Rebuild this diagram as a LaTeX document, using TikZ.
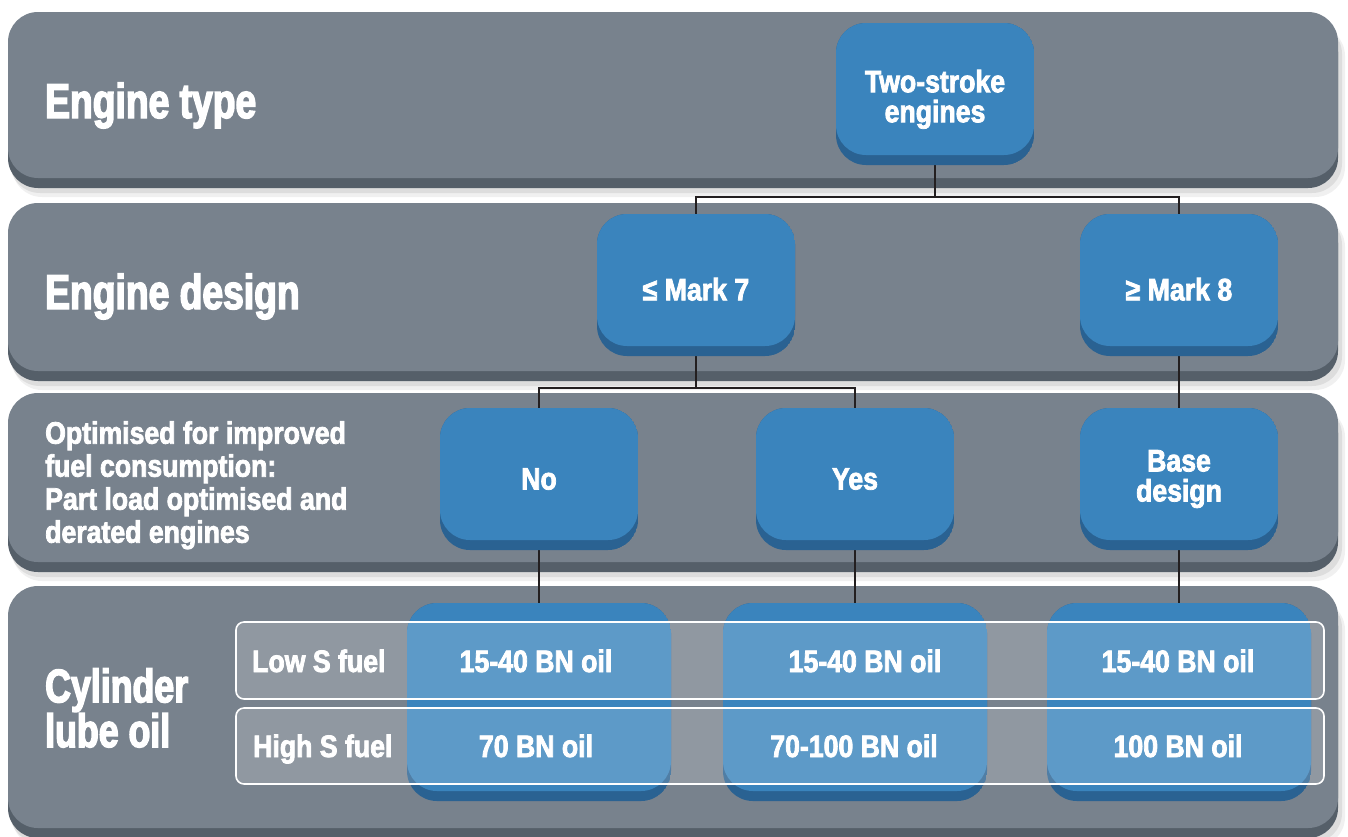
\documentclass[tikz,border=0pt]{standalone}
\usepackage{fontspec}
\setmainfont{Liberation Sans}
\newfontfamily\condS{Liberation Sans Bold}[FakeStretch=0.86,FakeBold=2.5]
\newfontfamily\condB{Liberation Sans Bold}[FakeStretch=0.76,FakeBold=3]
\usetikzlibrary{calc}
\definecolor{bandC}{RGB}{120,130,141}
\definecolor{bandD}{RGB}{85,95,105}
\definecolor{blueC}{RGB}{58,132,189}
\definecolor{blueD}{RGB}{42,98,146}
\definecolor{lineC}{RGB}{35,31,32}
\pgfdeclarelayer{bandlayer}
\pgfdeclarelayer{linelayer}
\pgfsetlayers{bandlayer,linelayer,main}
\newcommand\drawBand[2]{%
  \fill[black,opacity=0.06,rounded corners=30] (12,#1+14) rectangle (1345,#2+19);
  \fill[black,opacity=0.08,rounded corners=30] (10,#1+12) rectangle (1342,#2+15);
  \fill[bandD,rounded corners=30] (8,#1+10) rectangle (1338,#2+10);
  \fill[bandC,rounded corners=30] (8,#1) rectangle (1338,#2);}
\tikzset{
  bbox/.style={rectangle, rounded corners=30, minimum width=198, minimum height=142,
    inner sep=0, text=white, align=center,
    font={\condS\fontsize{31}{30}\selectfont},
    path picture={
      \fill[blueD] (path picture bounding box.south west) rectangle (path picture bounding box.north east);
      \fill[blueC, rounded corners=30] (path picture bounding box.north west) rectangle ($(path picture bounding box.south east)+(0,-10)$);
    }},
  obox/.style={bbox, minimum width=264, minimum height=198},
  rowbox/.style={rectangle, rounded corners=8, minimum width=1088, fill=white,
    fill opacity=0.18, draw=white, line width=1.6},
  rowtxt/.style={anchor=base, inner sep=0, text=white, font={\condS\fontsize{31}{30}\selectfont}},
  rowlab/.style={anchor=base west, inner sep=0, text=white, font={\condS\fontsize{31}{30}\selectfont}},
  biglab/.style={inner sep=0, text=white, align=left, font={\condB\fontsize{49}{43}\selectfont}},
  midlab/.style={inner sep=0, text=white, align=left, font={\condS\fontsize{31}{33}\selectfont}},
  conn/.style={draw=lineC, line width=2.2},
}
\begin{document}
\begin{tikzpicture}[x=1pt,y=-1pt]
\useasboundingbox (0,0) rectangle (1348,836);
\begin{pgfonlayer}{bandlayer}
\fill[white] (0,0) rectangle (1348,836);
\drawBand{12}{178}
\drawBand{203}{371}
\drawBand{393}{562}
\drawBand{586}{828}
\end{pgfonlayer}

% left labels
\node[biglab, anchor=base west] (lab1) at (45,118) {Engine type};
\node[biglab, anchor=base west] (lab2) at (45,309) {Engine design};
\node[midlab, anchor=north west] (lab3) at (45,421) {Optimised for improved\\fuel consumption:\\Part load optimised and\\derated engines};
\node[biglab, anchor=north west, font={\condB\fontsize{47}{43}\selectfont}] (lab4) at (45,668) {Cylinder\\lube oil};

% boxes
\node[bbox, text height=63] (two) at (935,94) {Two-stroke\\engines};
\node[bbox, text height=31] (m7) at (696,285) {≤ Mark 7};
\node[bbox, text height=31] (m8) at (1179,285) {≥ Mark 8};
\node[bbox] (no) at (539,479) {No};
\node[bbox] (yes) at (855,479) {Yes};
\node[bbox] (base) at (1179,479) {Base\\design};
\node[obox] (o1) at (539,702) {};
\node[obox] (o2) at (855,702) {};
\node[obox] (o3) at (1179,702) {};

% connectors
\coordinate (j1) at (0,197);
\coordinate (j2) at (0,388);
\begin{pgfonlayer}{linelayer}
\draw[conn] (two.south) |- (m7.north |- j1) -- (m7.north);
\draw[conn] (two.south) |- (m8.north |- j1) -- (m8.north);
\draw[conn] (m7.south) |- (no.north |- j2) -- (no.north);
\draw[conn] (m7.south) |- (yes.north |- j2) -- (yes.north);
\draw[conn] (m8.south) -- (base.north);
\draw[conn] (no.south) -- (o1.north);
\draw[conn] (yes.south) -- (o2.north);
\draw[conn] (base.south) -- (o3.north);
\end{pgfonlayer}

% rows
\node[rowbox, minimum height=77] (r1) at (780,660.5) {};
\node[rowbox, minimum height=76] (r2) at (780,746) {};
\node[rowlab] (low) at (252,672) {Low S fuel};
\node[rowlab] (high) at (253,757) {High S fuel};
\node[rowtxt] (c11) at (536,672) {15-40 BN oil};
\node[rowtxt] (c12) at (865,672) {15-40 BN oil};
\node[rowtxt] (c13) at (1178,672) {15-40 BN oil};
\node[rowtxt] (c21) at (536,757) {70 BN oil};
\node[rowtxt] (c22) at (854,757) {70-100 BN oil};
\node[rowtxt] (c23) at (1178,757) {100 BN oil};
\end{tikzpicture}
\end{document}
